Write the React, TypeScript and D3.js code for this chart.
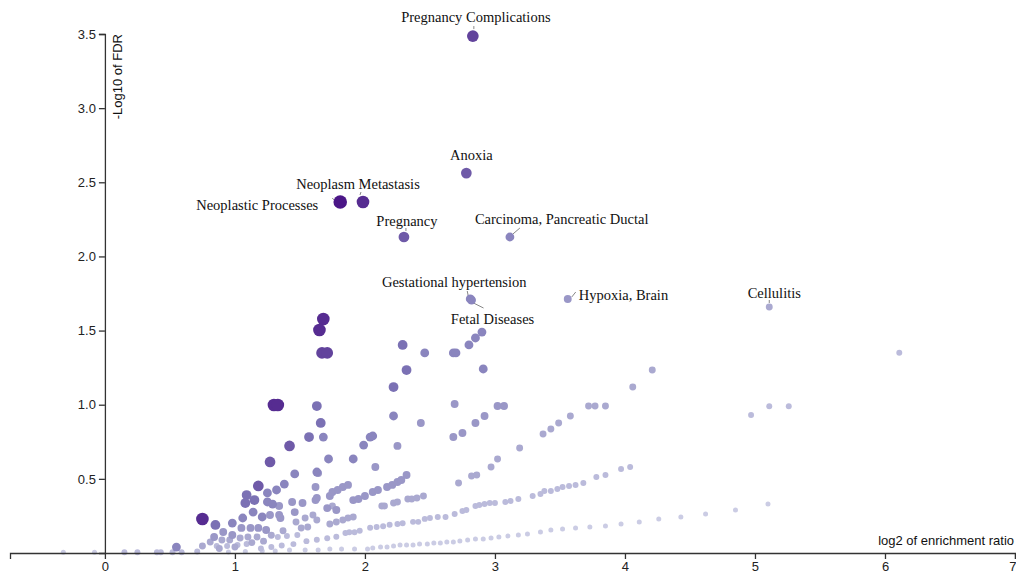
import React, { useEffect, useRef } from "react";
import * as d3 from "d3";

type Pt = [number, number];

// Enriched terms grouped by colour/size tier (gene overlap), light & small -> dark & large.
// Each point: [log2 enrichment ratio, -log10 FDR]
const tier1: Pt[] = [
  [-0.32, 0.005], [-0.08, 0.005], [0.95, 0.007], [1.08, 0.01],
  [1.21, 0.013], [1.31, 0.013], [1.42, 0.02], [1.54, 0.02], [1.64, 0.02], [1.73, 0.027],
  [1.82, 0.027], [1.92, 0.027], [2.02, 0.027], [2.06, 0.034], [2.12, 0.04], [2.17, 0.04],
  [2.22, 0.047], [2.27, 0.054], [2.32, 0.054], [2.37, 0.054], [2.42, 0.061], [2.48, 0.061],
  [2.53, 0.067], [2.58, 0.067], [2.63, 0.074], [2.68, 0.074], [2.73, 0.081], [2.79, 0.088],
  [2.85, 0.094], [2.91, 0.094], [2.97, 0.101], [3.03, 0.108], [3.1, 0.115], [3.18, 0.121],
  [3.25, 0.128], [3.35, 0.142], [3.43, 0.155], [3.52, 0.162], [3.62, 0.169], [3.73, 0.175],
  [3.85, 0.182], [3.97, 0.196], [4.11, 0.209], [4.26, 0.229], [4.43, 0.243], [4.62, 0.263],
  [4.85, 0.29], [5.1, 0.33],
];

const tier2: Pt[] = [
  [0.15, 0.005], [0.25, 0.005], [0.4, 0.005], [0.43, 0.005], [0.52, 0.005], [0.59, 0.005],
  [0.71, 0.01], [0.86, 0.047], [0.94, 0.047], [1.02, 0.054], [1.09, 0.061], [1.2, 0.03],
  [1.28, 0.04], [1.36, 0.05], [1.45, 0.06], [1.33, 0.108], [1.4, 0.115], [1.48, 0.121],
  [1.55, 0.08], [1.63, 0.09], [1.71, 0.1], [1.78, 0.11], [1.85, 0.135], [1.88, 0.14],
  [1.92, 0.14], [1.96, 0.15], [2.04, 0.17], [2.09, 0.175], [2.14, 0.18], [2.19, 0.19],
  [2.25, 0.196], [2.29, 0.2], [2.37, 0.21], [2.41, 0.21], [2.46, 0.23], [2.5, 0.236],
  [2.56, 0.243], [2.62, 0.243], [2.69, 0.263], [2.75, 0.283], [2.78, 0.29], [2.85, 0.317],
  [2.88, 0.324], [2.92, 0.33], [2.96, 0.337], [3.0, 0.337], [3.08, 0.344], [3.12, 0.351],
  [3.18, 0.364], [3.29, 0.384], [3.35, 0.398], [3.38, 0.418], [3.43, 0.418], [3.48, 0.432],
  [3.52, 0.445], [3.57, 0.452], [3.62, 0.459], [3.68, 0.472], [3.78, 0.512], [3.85, 0.526],
  [3.97, 0.566], [4.04, 0.58], [4.97, 0.93], [5.11, 0.99], [5.26, 0.99], [6.11, 1.35],
];

const tier3: Pt[] = [
  [0.75, 0.047], [0.81, 0.074], [0.9, 0.088], [0.96, 0.088], [1.04, 0.101], [1.1, 0.108],
  [1.17, 0.108], [1.47, 0.209], [1.54, 0.236], [1.6, 0.256], [1.63, 0.223], [1.51, 0.169],
  [1.56, 0.175], [1.73, 0.196], [1.78, 0.209], [1.83, 0.223], [1.87, 0.236], [1.91, 0.243],
  [1.75, 0.317], [2.13, 0.317], [2.15, 0.317], [2.22, 0.337], [2.25, 0.344], [2.33, 0.364],
  [2.36, 0.364], [2.4, 0.371], [2.45, 0.384], [2.72, 0.472], [2.82, 0.519], [2.86, 0.526],
  [2.97, 0.58], [3.02, 0.634], [3.19, 0.708], [3.37, 0.802], [3.43, 0.836], [3.49, 0.877],
  [3.58, 0.924], [3.72, 0.991], [3.77, 0.991], [3.85, 0.991], [4.06, 1.12], [4.21, 1.234],
  [0.88, 0.03], [1.0, 0.04], [1.13, 0.07], [1.22, 0.08], [1.28, 0.12], [1.37, 0.15],
];

const tier4: Pt[] = [
  [1.91, 0.357], [1.95, 0.364], [2.0, 0.384], [2.06, 0.411], [2.1, 0.425], [2.17, 0.445],
  [2.21, 0.459], [2.25, 0.479], [2.28, 0.492], [2.32, 0.526], [1.73, 0.384], [1.75, 0.411],
  [1.79, 0.425], [1.83, 0.445], [1.87, 0.459], [2.69, 1.005], [3.02, 0.991], [3.07, 0.991],
  [2.68, 0.782], [2.75, 0.809], [2.85, 0.877], [2.92, 0.924], [2.43, 0.877], [2.25, 0.722],
  [2.08, 0.58], [1.34, 0.317], [1.44, 0.344], [1.52, 0.337], [1.62, 0.445], [1.71, 0.303],
  [1.78, 0.29], [1.62, 0.357], [1.46, 0.276], [1.34, 0.256], [1.27, 0.256], [1.05, 0.169],
  [1.12, 0.169], [1.18, 0.169], [1.24, 0.155], [1.35, 0.236], [0.91, 0.142], [0.98, 0.121],
  [0.84, 0.108], [1.63, 0.371], [1.64, 0.539],
];

const tier5: Pt[] = [
  [1.72, 0.634], [1.91, 0.634], [1.99, 0.728], [2.04, 0.782], [2.06, 0.789], [2.22, 0.924],
  [2.46, 1.349], [2.68, 1.349], [2.7, 1.349], [2.8, 1.403], [2.85, 1.45], [2.9, 1.49],
  [2.91, 1.241], [1.68, 0.782], [1.63, 0.546], [1.46, 0.533], [1.38, 0.465], [1.32, 0.425],
  [1.25, 0.405], [1.25, 0.344], [1.29, 0.33], [1.21, 0.243], [1.14, 0.276], [1.06, 0.236],
  [0.98, 0.202], [0.55, 0.04],
];

const tier6: Pt[] = [
  [2.29, 1.403], [2.32, 1.234], [2.22, 1.119], [1.63, 0.991], [1.66, 0.877], [1.57, 0.782],
  [1.09, 0.391], [1.15, 0.357], [1.08, 0.337], [0.85, 0.189],
];

const tier7: Pt[] = [[1.42, 0.722], [1.27, 0.614], [1.18, 0.452]];

const tier8: Pt[] = [[1.67, 1.349], [1.71, 1.349]];

const tier9: Pt[] = [[1.68, 1.578], [1.65, 1.504], [1.3, 0.998], [1.33, 0.998], [0.75, 0.229]];

const tier10: Pt[] = [];

const tiers: Pt[][] = [tier1, tier2, tier3, tier4, tier5, tier6, tier7, tier8, tier9, tier10];

// labelled terms
const labelNames = [
  "Pregnancy Complications", "Anoxia", "Neoplasm Metastasis", "Neoplastic Processes",
  "Pregnancy", "Carcinoma, Pancreatic Ductal", "Gestational hypertension", "Fetal Diseases",
  "Hypoxia, Brain", "Cellulitis",
];
const labelX = [2.83, 2.78, 1.985, 1.81, 2.3, 3.115, 2.81, 2.82, 3.56, 5.11];
const labelY = [3.486, 2.562, 2.367, 2.367, 2.131, 2.131, 1.713, 1.706, 1.713, 1.659];
const labelTier = [8, 7, 9, 10, 7, 5, 5, 5, 4, 3];

const xTicks = [0, 1, 2, 3, 4, 5, 6, 7];
const yTicks = [0.5, 1, 1.5, 2, 2.5, 3, 3.5];

const WIDTH = 1016;
const HEIGHT = 579;

// text placement relative to the point (px), and leader line [x1,y1,x2,y2]
const labelLayout: Record<string, { dx: number; dy: number; anchor: string; line?: number[] }> = {
  "Pregnancy Complications": { dx: 3, dy: -14, anchor: "middle", line: [1, -7, 1, -10] },
  "Anoxia": { dx: 5, dy: -13, anchor: "middle" },
  "Neoplasm Metastasis": { dx: -5, dy: -13, anchor: "middle", line: [-3, -7, -2, -10] },
  "Neoplastic Processes": { dx: -22, dy: 8, anchor: "end", line: [-5, -1, -8, -4] },
  "Pregnancy": { dx: 3, dy: -11, anchor: "middle", line: [2, -6, 2, -9] },
  "Carcinoma, Pancreatic Ductal": { dx: -35, dy: -13, anchor: "start", line: [3, -3, 10, -9] },
  "Gestational hypertension": { dx: -16, dy: -12, anchor: "middle", line: [-2, -3, -3, -8] },
  "Fetal Diseases": { dx: 21, dy: 24, anchor: "middle", line: [2, 3, 12, 8] },
  "Hypoxia, Brain": { dx: 11, dy: 1, anchor: "start", line: [4, -2, 8, -7] },
  "Cellulitis": { dx: 5, dy: -9, anchor: "middle", line: [0, -4, 0, -7] },
};

export default function App() {
  const xAxisRef = useRef<SVGGElement>(null);
  const yAxisRef = useRef<SVGGElement>(null);

  const x = d3.scaleLinear().domain([-0.73, 7]).range([10, 1015]);
  const y = d3.scaleLinear().domain([0, 3.5]).range([553, 34]);
  const radius = d3.scaleLinear().domain([1, 10]).range([2.5, 6.8]);
  const color = (t: number) => d3.interpolatePurples(0.31 + (t - 1) * 0.069);

  useEffect(() => {
    const gx = d3.select(xAxisRef.current);
    gx.selectAll("*").remove();
    gx.call(d3.axisBottom(x).tickValues(xTicks).tickFormat(d3.format("d")).tickPadding(3) as any);
    // keep the last label inside the frame
    gx.selectAll<SVGTextElement, number>(".tick text")
      .filter((d) => d === xTicks[xTicks.length - 1])
      .attr("text-anchor", "end")
      .attr("x", 1);

    const gy = d3.select(yAxisRef.current);
    gy.selectAll("*").remove();
    gy.call(d3.axisLeft(y).tickValues(yTicks).tickFormat(d3.format(".1f")) as any);

    [gx, gy].forEach((g) => {
      g.attr("font-size", 13).attr("font-family", "'Liberation Sans', Arial, sans-serif");
      g.selectAll("path, line").attr("stroke", "#333").attr("stroke-width", 1.3);
      g.selectAll("text").attr("fill", "#222");
    });
  }, []);

  return (
    <svg
      width={WIDTH}
      height={HEIGHT}
      style={{ position: "absolute", left: 0, top: 0, background: "#fff" }}
    >
      {tiers.map((pts, i) => (
        <g key={i} fill={color(i + 1)}>
          {pts.map((p, j) => (
            <circle key={j} cx={x(p[0])} cy={y(p[1])} r={radius(i + 1)} />
          ))}
        </g>
      ))}

      {labelNames.map((name, i) => {
        const px = x(labelX[i]);
        const py = y(labelY[i]);
        const lay = labelLayout[name];
        return (
          <g key={name}>
            {lay.line && (
              <line
                x1={px + lay.line[0]}
                y1={py + lay.line[1]}
                x2={px + lay.line[2]}
                y2={py + lay.line[3]}
                stroke="#888"
                strokeWidth={1}
              />
            )}
            <circle cx={px} cy={py} r={radius(labelTier[i])} fill={color(labelTier[i])} />
            <text
              x={px + lay.dx}
              y={py + lay.dy}
              textAnchor={lay.anchor as any}
              fontFamily="'Liberation Serif', 'Times New Roman', serif"
              fontSize={14.5}
              fill="#111"
            >
              {name}
            </text>
          </g>
        );
      })}

      <g ref={xAxisRef} transform={`translate(0,${y(0)})`} />
      <g ref={yAxisRef} transform={`translate(${x(0)},0)`} />

      <text
        x={1014}
        y={545}
        textAnchor="end"
        fontFamily="'Liberation Sans', Arial, sans-serif"
        fontSize={13}
        fill="#111"
      >
        log2 of enrichment ratio
      </text>
      <text
        transform={`translate(122,34) rotate(-90)`}
        textAnchor="end"
        fontFamily="'Liberation Sans', Arial, sans-serif"
        fontSize={13}
        fill="#111"
      >
        -Log10 of FDR
      </text>
    </svg>
  );
}
